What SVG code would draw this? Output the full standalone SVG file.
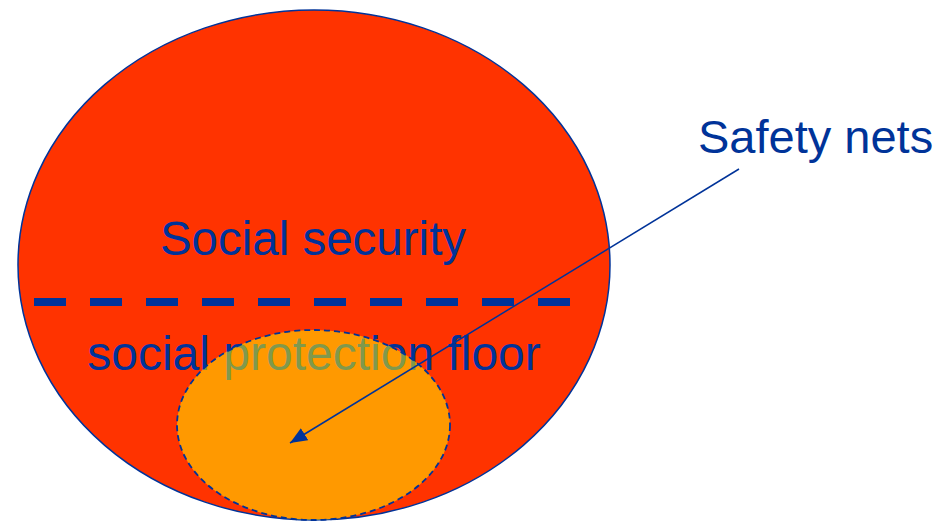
<svg xmlns="http://www.w3.org/2000/svg" width="944" height="521" viewBox="0 0 944 521">
<style>
.lbl{font-family:"Liberation Sans",Arial,sans-serif;fill:#003399;}
</style>
<defs>
<marker id="ah" markerWidth="17" markerHeight="14" refX="17" refY="7" orient="auto" markerUnits="userSpaceOnUse" viewBox="0 0 17 14">
<path d="M0,0 L17,7 L0,14 Z" fill="#003399"/>
</marker>
</defs>
<rect width="944" height="521" fill="#ffffff"/>
<g id="social-security">
<ellipse cx="314" cy="265" rx="296" ry="255" fill="#FF3300" stroke="#003399" stroke-width="1.5"/>
<text class="lbl" x="313" y="255" font-size="47.5" text-anchor="middle">Social security</text>
</g>
<g id="divider">
<line x1="34" y1="302" x2="570" y2="302" stroke="#003399" stroke-width="8" stroke-dasharray="32 24"/>
</g>
<g id="social-protection-floor">
<text class="lbl" x="314" y="370" font-size="48" text-anchor="middle">social protection floor</text>
</g>
<g id="safety-nets">
<ellipse cx="313.5" cy="425" rx="136.5" ry="95" fill="#FFFF00" fill-opacity="0.5" stroke="#003399" stroke-width="1.8" stroke-dasharray="6 4"/>
</g>
<g id="safety-nets-label">
<text class="lbl" x="698" y="153" font-size="47">Safety nets</text>
</g>
<g id="connectors">
<line x1="739" y1="169" x2="290" y2="443" stroke="#003399" stroke-width="1.5" marker-end="url(#ah)"/>
</g>
</svg>
